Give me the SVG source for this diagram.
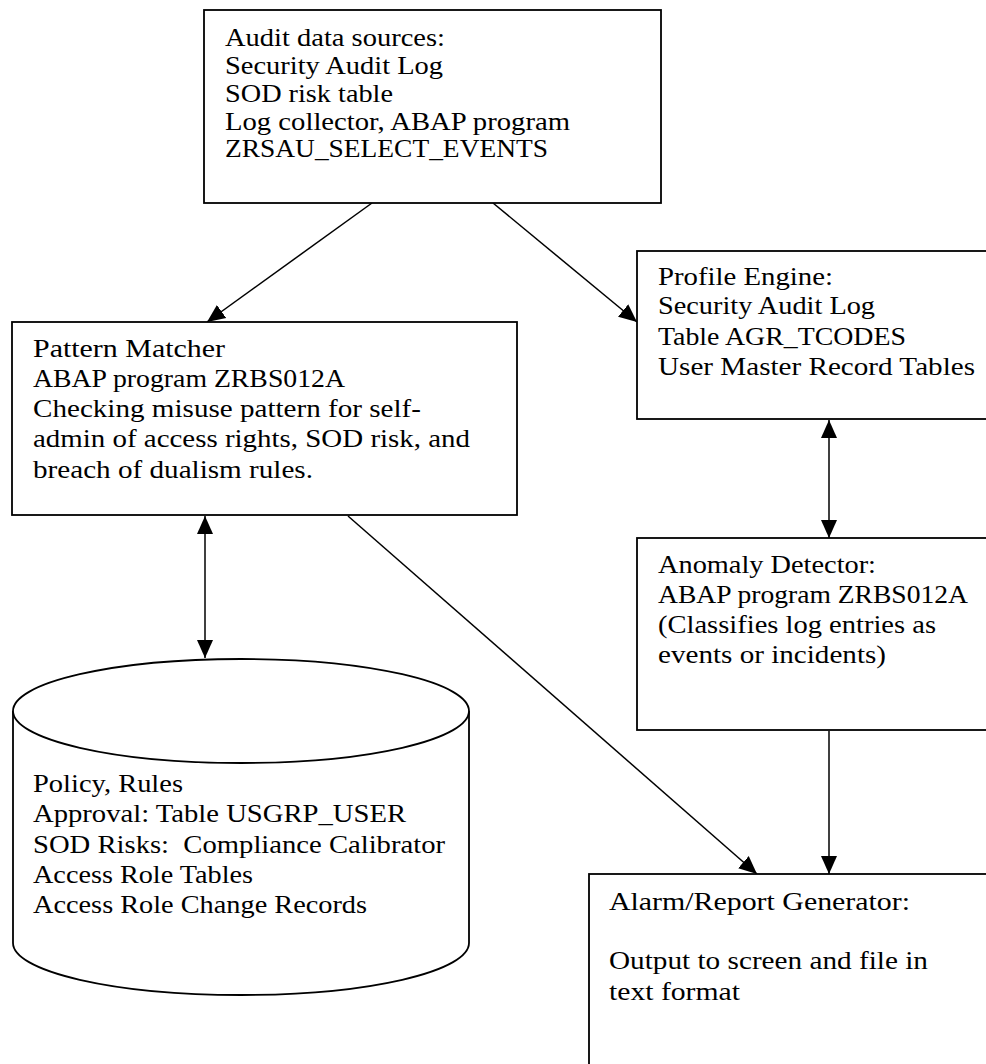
<svg xmlns="http://www.w3.org/2000/svg" width="986" height="1064" viewBox="0 0 986 1064">
<style>
.box{fill:#fff;stroke:#000;stroke-width:1.8}
.ln{fill:none;stroke:#000;stroke-width:1.5}
text{font-family:"Liberation Serif","Times New Roman",serif;font-size:26px;fill:#000}
</style>
<defs>
<marker id="ah" markerUnits="userSpaceOnUse" markerWidth="20" markerHeight="18" refX="18" refY="9" orient="auto-start-reverse">
<path d="M0,1 L18,9 L0,17 z" fill="#000"/>
</marker>
</defs>
<rect width="986" height="1064" fill="#fff"/>
<g id="connectors">
<line class="ln" x1="372" y1="203" x2="207" y2="322" marker-end="url(#ah)"/>
<line class="ln" x1="493" y1="203" x2="637" y2="322" marker-end="url(#ah)"/>
<line class="ln" x1="829" y1="420" x2="829" y2="538" marker-start="url(#ah)" marker-end="url(#ah)"/>
<line class="ln" x1="205" y1="516" x2="205" y2="658" marker-start="url(#ah)" marker-end="url(#ah)"/>
<line class="ln" x1="348" y1="516" x2="757" y2="874" marker-end="url(#ah)"/>
<line class="ln" x1="829" y1="731" x2="829" y2="874" marker-end="url(#ah)"/>
</g>
<g id="audit-sources">
<rect class="box" x="204" y="10" width="457" height="193"/>
<text x="225" y="46" textLength="220" lengthAdjust="spacingAndGlyphs">Audit data sources:</text>
<text x="225" y="74" textLength="218" lengthAdjust="spacingAndGlyphs">Security Audit Log</text>
<text x="225" y="102" textLength="168" lengthAdjust="spacingAndGlyphs">SOD risk table</text>
<text x="225" y="130" textLength="345" lengthAdjust="spacingAndGlyphs">Log collector, ABAP program</text>
<text x="225" y="157" textLength="323" lengthAdjust="spacingAndGlyphs">ZRSAU_SELECT_EVENTS</text>
</g>
<g id="pattern-matcher">
<rect class="box" x="12" y="322" width="505" height="193"/>
<text x="33" y="357" textLength="192" lengthAdjust="spacingAndGlyphs">Pattern Matcher</text>
<text x="33" y="387" textLength="312" lengthAdjust="spacingAndGlyphs">ABAP program ZRBS012A</text>
<text x="33" y="417" textLength="388" lengthAdjust="spacingAndGlyphs">Checking misuse pattern for self-</text>
<text x="33" y="447" textLength="437" lengthAdjust="spacingAndGlyphs">admin of access rights, SOD risk, and</text>
<text x="33" y="478" textLength="280" lengthAdjust="spacingAndGlyphs">breach of dualism rules.</text>
</g>
<g id="profile-engine">
<rect class="box" x="637" y="251" width="400" height="168"/>
<text x="658" y="285" textLength="175" lengthAdjust="spacingAndGlyphs">Profile Engine:</text>
<text x="658" y="314" textLength="217" lengthAdjust="spacingAndGlyphs">Security Audit Log</text>
<text x="658" y="345" textLength="248" lengthAdjust="spacingAndGlyphs">Table AGR_TCODES</text>
<text x="658" y="375" textLength="317" lengthAdjust="spacingAndGlyphs">User Master Record Tables</text>
</g>
<g id="anomaly-detector">
<rect class="box" x="637" y="538" width="400" height="192"/>
<text x="658" y="573" textLength="218" lengthAdjust="spacingAndGlyphs">Anomaly Detector:</text>
<text x="658" y="603" textLength="310" lengthAdjust="spacingAndGlyphs">ABAP program ZRBS012A</text>
<text x="658" y="633" textLength="278" lengthAdjust="spacingAndGlyphs">(Classifies log entries as</text>
<text x="658" y="663" textLength="228" lengthAdjust="spacingAndGlyphs">events or incidents)</text>
</g>
<g id="policy-db">
<path class="box" d="M13,711 L13,943 A228,52 0 0,0 469,943 L469,711"/>
<ellipse class="box" cx="241" cy="711" rx="228" ry="52"/>
<text x="33" y="792" textLength="150" lengthAdjust="spacingAndGlyphs">Policy, Rules</text>
<text x="33" y="822" textLength="373" lengthAdjust="spacingAndGlyphs">Approval: Table USGRP_USER</text>
<text x="33" y="853" textLength="412" lengthAdjust="spacingAndGlyphs" xml:space="preserve">SOD Risks:  Compliance Calibrator</text>
<text x="33" y="883" textLength="220" lengthAdjust="spacingAndGlyphs">Access Role Tables</text>
<text x="33" y="913" textLength="334" lengthAdjust="spacingAndGlyphs">Access Role Change Records</text>
</g>
<g id="alarm-generator">
<rect class="box" x="589" y="874" width="450" height="250"/>
<text x="609" y="910" textLength="301" lengthAdjust="spacingAndGlyphs">Alarm/Report Generator:</text>
<text x="609" y="969" textLength="319" lengthAdjust="spacingAndGlyphs">Output to screen and file in</text>
<text x="609" y="1000" textLength="131" lengthAdjust="spacingAndGlyphs">text format</text>
</g>
</svg>
